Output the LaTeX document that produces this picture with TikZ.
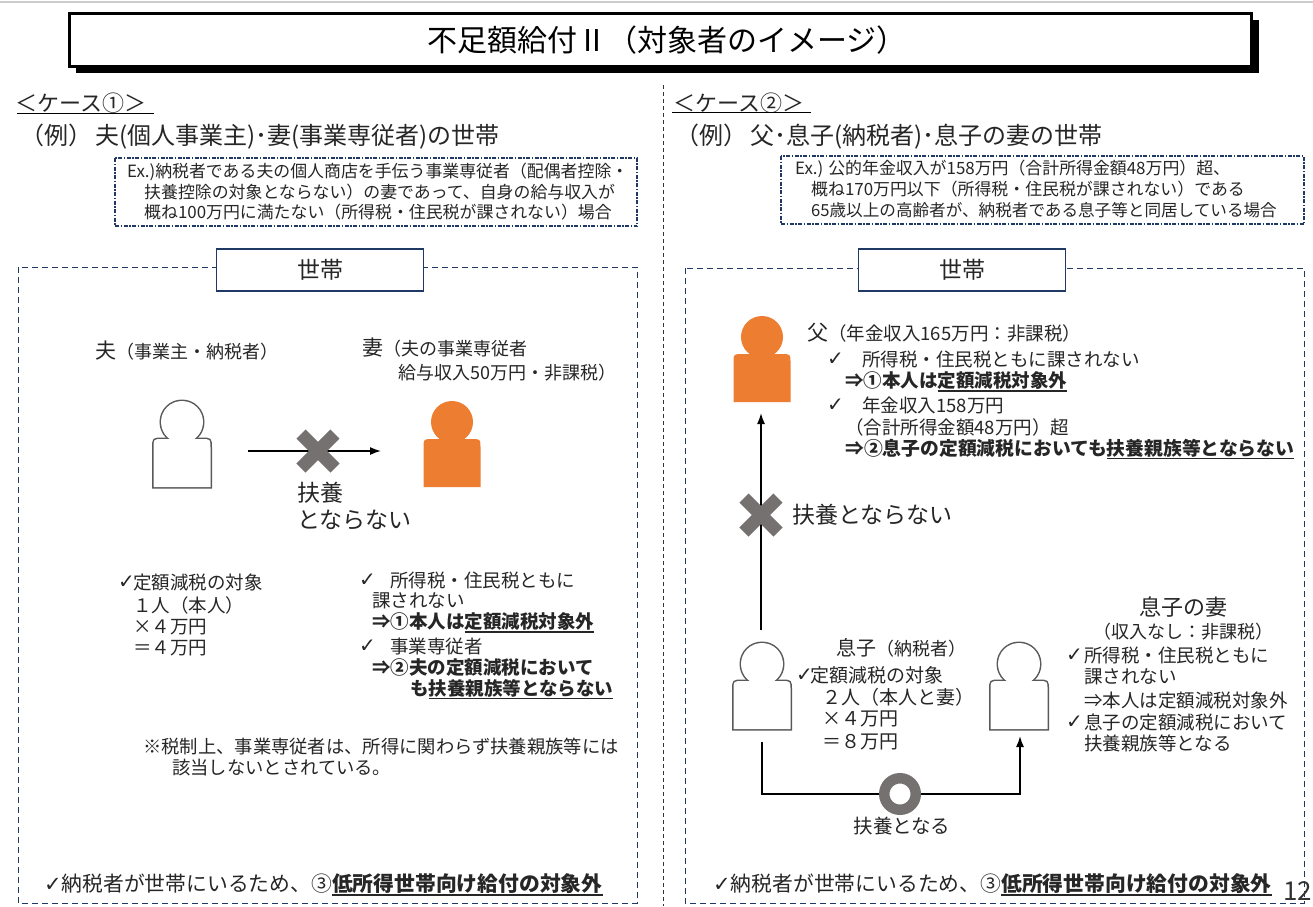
\documentclass[tikz,border=0pt]{standalone}
\usepackage{fontspec}
\setmainfont{Noto Sans CJK JP}
\newfontfamily\djv{DejaVu Sans}
\usetikzlibrary{arrows.meta}
\definecolor{navy}{HTML}{1F3864}
\definecolor{org}{HTML}{ED7D31}
\definecolor{xgray}{HTML}{767171}
\definecolor{txt}{HTML}{262626}
\definecolor{pgray}{HTML}{595959}
\newcommand\fsz[1]{\fontsize{#1}{#1}\selectfont}
\newcommand\chk{{\djv\fsz{20}✓}}
\newcommand\myul[2][1.5pt]{\setbox0\hbox{#2}\rlap{\rule[-4pt]{\wd0}{#1}}\box0}
\tikzset{
  tx/.style={inner sep=0pt,anchor=west,text=txt},
  tc/.style={inner sep=0pt,text=txt},
  arr/.style={-{Latex[length=11pt,width=8pt]},line width=1.5pt,black},
  dbox/.style={navy,dash pattern=on 6pt off 4pt,line width=1pt},
  exbox/.style={navy,line width=1.8pt,dash pattern=on 4pt off 1.5pt on 1.5pt off 1.5pt},
  labbox/.style={draw=navy,line width=1.2pt,fill=white,minimum width=207pt,minimum height=42pt,inner sep=0pt,text=txt},
  pics/personO/.style={code={
    \draw[pgray,line width=3pt] (-28.5,65) -- (-28.5,26) .. controls (-28.5,17) .. (-19.5,17) -- (19.5,17) .. controls (28.5,17) .. (28.5,26) -- (28.5,65) -- cycle;
    \draw[pgray,line width=3pt] (0,0) circle (21pt);
    \fill[white] (-28.5,65) -- (-28.5,26) .. controls (-28.5,17) .. (-19.5,17) -- (19.5,17) .. controls (28.5,17) .. (28.5,26) -- (28.5,65) -- cycle;
    \fill[white] (0,0) circle (21pt);
  }},
  pics/personF/.style={code={
    \fill[org] (-28.5,65) -- (-28.5,26) .. controls (-28.5,17) .. (-19.5,17) -- (19.5,17) .. controls (28.5,17) .. (28.5,26) -- (28.5,65) -- cycle;
    \fill[org] (0,0) circle (21pt);
  }},
  pics/xmark/.style={code={
    \draw[xgray,line width=13pt] (-17,-17) -- (17,17) (-17,17) -- (17,-17);
  }},
  pics/ring/.style={code={
    \draw[xgray,line width=10.5pt,fill=white] (0,0) circle (15.75pt);
  }}
}
\begin{document}
\begin{tikzpicture}[x=1pt,y=-1pt]
\useasboundingbox (0,0) rectangle (1313,906);
\fill[white] (0,0) rectangle (1313,906);
\draw[black!20,line width=1.5pt] (0,2) -- (1313,2);

% title
\fill[black] (76,20) rectangle (1259,73);
\node[draw=black,line width=2.5pt,fill=white,minimum width=1182pt,minimum height=53pt,inner sep=0pt,anchor=north west] (title) at (68,12) {};
\node[inner sep=0pt,text=black] (titletext) at (667,40) {\fsz{30}不足額給付Ⅱ（対象者のイメージ）};

% separator
\draw[black!80,dash pattern=on 4pt off 3pt,line width=0.8pt] (663,85) -- (663,906);

% ---------- left panel ----------
\node[tx] (c1) at (15,103) {\fsz{22}＜ケース①＞};
\draw[line width=1pt] (17,113) -- (154,113);
\node[tx] (h1) at (20,137) {\fsz{24}（例）\hspace{3pt}夫(個人事業主)･妻(事業専従者)の世帯};
\draw[exbox] (115,158) rectangle (637,226);
\node[tx] (e1a) at (127,172) {\fsz{16.9}Ex.)納税者である夫の個人商店を手伝う事業専従者（配偶者控除・};
\node[tx] (e1b) at (144,192) {\fsz{16.9}扶養控除の対象とならない）の妻であって、自身の給与収入が};
\node[tx] (e1c) at (144,212) {\fsz{16.9}概ね100万円に満たない（所得税・住民税が課されない）場合};

\draw[dbox] (18,267) rectangle (637,903);
\node[labbox] (lab1) at (320,270) {\fsz{23}世帯};

\node[tx] (hl) at (95,351) {\fsz{21}夫\fsz{18}（事業主・納税者）};
\node[tx] (wl1) at (362,348) {\fsz{21}妻\fsz{18}（夫の事業専従者};
\node[tx] (wl2) at (398,373) {\fsz{18}給与収入50万円・非課税）};

\pic (hus) at (182,422) {personO};
\pic (wif) at (452,422) {personF};
\coordinate (a1s) at (248,451);
\coordinate (a1e) at (381,451);
\draw[arr] (a1s) -- (a1e);
\pic (x1) at (318,451) {xmark};
\node[tx] (fy1) at (297,493) {\fsz{23}扶養};
\node[tx] (fy2) at (297,520) {\fsz{23}とならない};

\node[tx] (k1c) at (118,582) {\chk};
\node[tx] (k1) at (133,582) {\fsz{18.5}定額減税の対象};
\node[tx] (k2) at (133,605) {\fsz{18.5}１人（本人）};
\node[tx] (k3) at (133,627) {\fsz{18.5}×４万円};
\node[tx] (k4) at (133,648) {\fsz{18.5}＝４万円};

\node[tx] (r1c) at (359,580) {\chk};
\node[tx] (r1) at (390,580) {\fsz{18.5}所得税・住民税ともに};
\node[tx] (r2) at (372,601) {\fsz{18.5}課されない};
\node[tx] (r3) at (372,623) {\fsz{18.5}\bfseries ⇒①本人は\myul{定額減税対象外}};
\node[tx] (r4c) at (359,646) {\chk};
\node[tx] (r4) at (390,646) {\fsz{18.5}事業専従者};
\node[tx] (r5) at (372,668) {\fsz{18.5}\bfseries ⇒②夫の定額減税において};
\node[tx] (r6) at (410,689) {\fsz{18.5}\bfseries も\myul{扶養親族等とならない}};

\node[tx] (n1) at (143,747) {\fsz{18.3}※税制上、事業専従者は、所得に関わらず扶養親族等には};
\node[tx] (n2) at (172,768) {\fsz{18.3}該当しないとされている。};

\node[tx] (b1) at (44,885) {{\djv\fsz{21}✓}\fsz{20.8}納税者が世帯にいるため、③\textbf{\myul[2.2pt]{低所得世帯向け給付の対象外}}};

% ---------- right panel ----------
\node[tx] (c2) at (673,103) {\fsz{22}＜ケース②＞};
\draw[line width=1pt] (672,112) -- (811,112);
\node[tx] (h2) at (675,137) {\fsz{24}（例）\hspace{3pt}父･息子(納税者)･息子の妻の世帯};
\draw[exbox] (781,156) rectangle (1304,224);
\node[tx] (e2a) at (795,169) {\fsz{16.9}Ex.) 公的年金収入が158万円（合計所得金額48万円）超、};
\node[tx] (e2b) at (811,189) {\fsz{16.9}概ね170万円以下（所得税・住民税が課されない）である};
\node[tx] (e2c) at (811,210) {\fsz{16.6}65歳以上の高齢者が、納税者である息子等と同居している場合};

\draw[dbox] (685,268) rectangle (1304,903);
\node[labbox] (lab2) at (962,270) {\fsz{23}世帯};

\pic (fat) at (762,337) {personF};
\node[tx] (fa) at (807,333) {\fsz{21}父\fsz{18.5}（年金収入165万円：非課税）};
\node[tx] (fa1c) at (827,359) {\chk};
\node[tx] (fa1) at (862,359) {\fsz{18.5}所得税・住民税ともに課されない};
\node[tx] (fa2) at (845,382) {\fsz{18.5}\bfseries ⇒①本人は\myul{定額減税対象外}};
\node[tx] (fa3c) at (827,405) {\chk};
\node[tx] (fa3) at (862,405) {\fsz{18.5}年金収入158万円};
\node[tx] (fa4) at (845,427) {\fsz{18.5}（合計所得金額48万円）超};
\node[tx] (fa5) at (845,449) {\fsz{18.8}\bfseries ⇒②息子の定額減税においても\myul{扶養親族等とならない}};

\coordinate (f1) at (761,630);
\coordinate (f2) at (761,413);
\draw[arr] (f1) -- (f2);
\pic (x2) at (761,515) {xmark};
\node[tx] (fyr) at (792,515) {\fsz{23}扶養とならない};

\pic (son) at (762,664) {personO};
\pic (swf) at (1019,664) {personO};

\node[tx] (so) at (836,648) {\fsz{20}息子\fsz{18}（納税者）};
\node[tx] (so1c) at (796,675) {\chk};
\node[tx] (so1) at (810,675) {\fsz{19}定額減税の対象};
\node[tx] (so2) at (822,697) {\fsz{19}２人（本人と妻）};
\node[tx] (so3) at (822,719) {\fsz{19}×４万円};
\node[tx] (so4) at (822,742) {\fsz{19}＝８万円};

\node[tc] (sw) at (1183,607) {\fsz{22}息子の妻};
\node[tc] (sw0) at (1183,632) {\fsz{18}（収入なし：非課税）};
\node[tx] (sw1c) at (1066,655) {\chk};
\node[tx] (sw1) at (1084,655) {\fsz{18.5}所得税・住民税ともに};
\node[tx] (sw2) at (1084,677) {\fsz{18.5}課されない};
\node[tx] (sw3) at (1084,700) {\fsz{18.5}⇒本人は定額減税対象外};
\node[tx] (sw4c) at (1066,722) {\chk};
\node[tx] (sw4) at (1084,722) {\fsz{18.5}息子の定額減税において};
\node[tx] (sw5) at (1084,743) {\fsz{18.5}扶養親族等となる};

\coordinate (s1) at (762,742);
\coordinate (s2) at (1020,736);
\draw[arr] (s1) -- ++(0,52) -| (s2);
\pic (rg) at (900,794) {ring};
\node[tc] (fyn) at (902,826) {\fsz{19.5}扶養となる};

\node[tx] (b2) at (713,885) {{\djv\fsz{21}✓}\fsz{20.8}納税者が世帯にいるため、③\textbf{\myul[2.2pt]{低所得世帯向け給付の対象外}}};

\node[tx,text=black!80] (pg) at (1283,891) {\fsz{26}12};
\end{tikzpicture}
\end{document}
